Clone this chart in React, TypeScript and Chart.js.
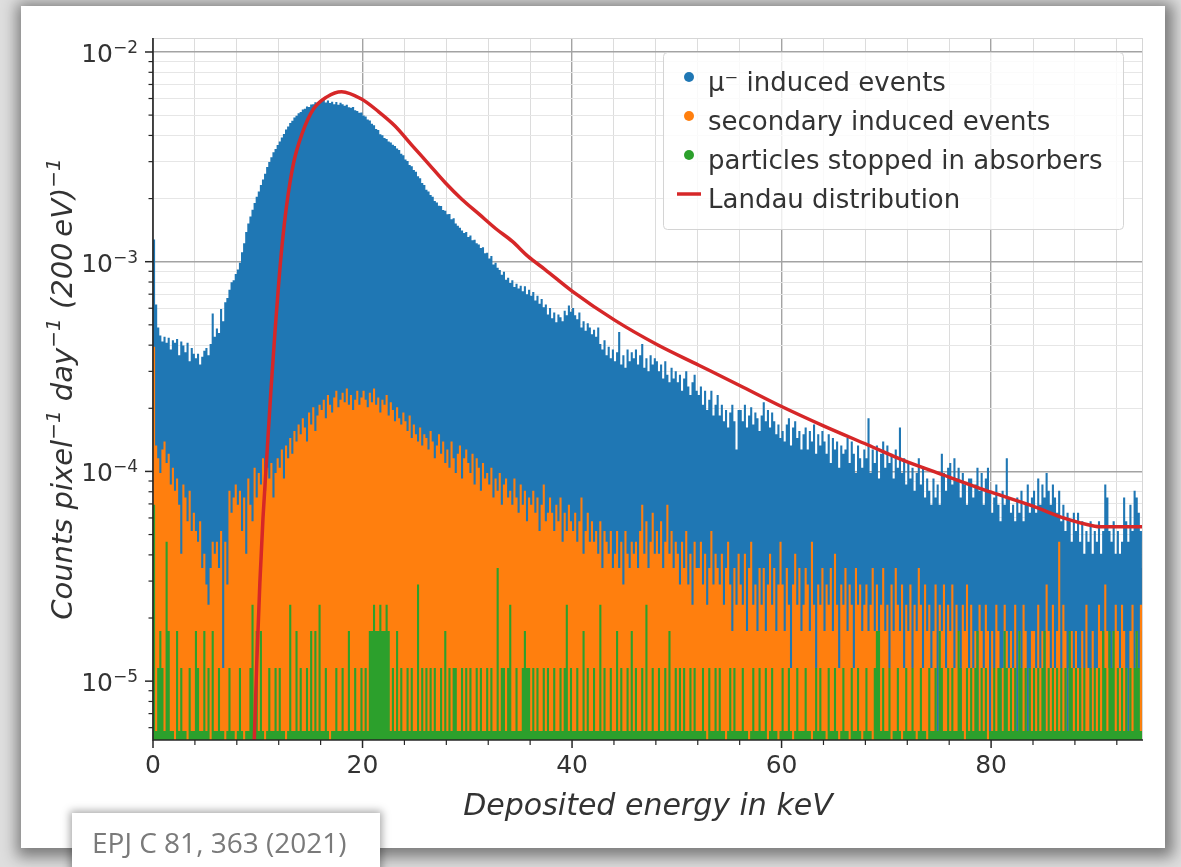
import React, { useEffect, useRef } from "react";
import { Chart, registerables } from "chart.js";

Chart.register(...registerables);

// ---- data ----
const BIN_WIDTH_KEV = 0.2; // 200 eV bins
const COUNT_UNIT = 5.78e-6; // one event in counts pixel^-1 day^-1
const X_MAX = 94.5;
const Y_MIN = 5.24e-6;
const Y_MAX = 1.166e-2;
const X_MINOR_STEP = 4;
const X_MAJOR_LABELS = [0, 20, 40, 60, 80];
const Y_DECADES = [-5, -4, -3, -2];

// events per 200 eV bin, starting at 0 keV
const muCounts = [
  221, 108, 84, 77, 72, 76, 71, 75, 66, 73,
  71, 74, 62, 72, 69, 64, 71, 58, 67, 63,
  60, 63, 56, 61, 65, 67, 62, 70, 98, 76,
  83, 79, 103, 90, 111, 116, 127, 138, 141, 151,
  159, 171, 192, 212, 240, 263, 284, 306, 330, 353,
  374, 402, 427, 455, 489, 517, 544, 576, 597, 623,
  647, 676, 704, 739, 764, 793, 813, 843, 860, 882,
  896, 921, 928, 950, 946, 972, 976, 996, 990, 1011,
  1006, 1021, 994, 1016, 987, 1003, 974, 999, 969, 991,
  976, 960, 969, 944, 939, 947, 913, 906, 889, 891,
  861, 853, 824, 816, 786, 774, 743, 734, 702, 693,
  673, 666, 647, 640, 624, 616, 600, 590, 566, 557,
  531, 523, 500, 494, 473, 464, 442, 432, 411, 402,
  381, 374, 360, 353, 337, 331, 320, 319, 305, 303,
  291, 292, 276, 279, 263, 257, 251, 244, 237, 240,
  227, 231, 219, 220, 212, 209, 201, 203, 190, 191,
  179, 184, 168, 171, 162, 158, 150, 155, 142, 145,
  137, 141, 131, 136, 129, 133, 125, 132, 121, 127,
  119, 124, 113, 119, 109, 115, 105, 108, 97, 104,
  93, 99, 89, 97, 94, 90, 101, 96, 107, 100,
  104, 96, 92, 99, 84, 90, 81, 88, 84, 78,
  82, 76, 84, 70, 66, 73, 62, 68, 60, 66,
  58, 64, 80, 56, 62, 54, 66, 58, 64, 60,
  66, 56, 62, 70, 54, 60, 52, 62, 56, 60,
  58, 52, 56, 48, 58, 50, 46, 54, 48, 52,
  46, 50, 42, 48, 52, 44, 40, 46, 50, 42,
  40, 44, 36, 42, 34, 38, 42, 32, 36, 40,
  32, 36, 30, 34, 28, 33, 36, 30, 22, 34,
  34, 30, 36, 28, 32, 35, 29, 33, 31, 27,
  32, 37, 30, 34, 28, 33, 30, 26, 29, 25,
  27, 24, 29, 31, 23, 28, 30, 25, 27, 22,
  26, 28, 22, 27, 24, 29, 21, 26, 23, 27,
  24, 21, 26, 19, 25, 22, 24, 18, 23, 21,
  22, 25, 19, 24, 21, 17, 23, 20, 18, 22,
  20, 31, 17, 22, 19, 23, 16, 21, 24, 18,
  23, 19, 21, 16, 22, 18, 28, 17, 20, 15,
  19, 16, 18, 14, 17, 20, 15, 18, 13, 16,
  14, 12, 16, 13, 15, 12, 21, 17, 14, 18,
  19, 15, 20, 16, 18, 13, 17, 15, 12, 16,
  16, 13, 15, 18, 14, 17, 12, 16, 18, 14,
  11, 13, 15, 12, 10, 14, 12, 20, 13, 11,
  12, 10, 13, 11, 14, 10, 12, 15, 11, 13,
  14, 11, 16, 12, 15, 13, 17, 14, 12, 15,
  13, 11, 14, 10, 12, 9, 11, 10, 8, 11,
  9, 11, 8, 10, 7, 9, 8, 10, 7, 9,
  8, 10, 7, 9, 15, 13, 9, 8, 10, 7,
  9, 7, 8, 13, 10, 8, 12, 9, 14, 13,
  11, 9, 6,
];

const secondaryCounts = [
  68, 23, 20, 17, 22, 24, 19, 21, 15, 18,
  14, 16, 12, 7, 15, 13, 10, 14, 9, 11,
  9, 8, 10, 6, 7, 5, 4, 6, 8, 7,
  8, 6, 9, 2, 8, 5, 14, 11, 13, 15,
  12, 14, 9, 13, 7, 16, 12, 10, 18, 13,
  17, 15, 20, 14, 18, 16, 19, 13, 17, 20,
  18, 22, 16, 23, 20, 25, 21, 27, 24, 29,
  26, 31, 28, 24, 33, 29, 35, 27, 32, 36,
  34, 38, 31, 40, 36, 33, 39, 42, 35, 38,
  41, 37, 43, 36, 40, 34, 38, 42, 36, 39,
  42, 38, 35, 41, 37, 43, 36, 39, 33, 38,
  36, 40, 32, 37, 34, 30, 35, 31, 29, 33,
  30, 27, 32, 25, 29, 26, 24, 28, 23, 26,
  25, 22, 27, 24, 20, 23, 26, 21, 24, 19,
  22, 18, 24, 20, 17, 21, 23, 16, 20, 22,
  19, 17, 21, 15, 20, 18, 14, 19, 16, 17,
  15, 18, 13, 16, 14, 17, 12, 15, 16, 13,
  14, 12, 16, 13, 11, 15, 12, 14, 10, 13,
  12, 14, 11, 13, 9, 12, 15, 10, 11, 13,
  11, 9, 12, 10, 13, 8, 11, 9, 12, 10,
  9, 11, 8, 10, 13, 7, 9, 11, 8, 10,
  8, 9, 7, 10, 6, 9, 8, 7, 9, 6,
  7, 9, 6, 8, 5, 9, 7, 6, 8, 7,
  8, 6, 9, 12, 7, 10, 6, 8, 11, 7,
  9, 7, 10, 6, 8, 12, 7, 9, 6, 8,
  7, 5, 8, 6, 9, 5, 7, 4, 8, 6,
  6, 8, 5, 7, 4, 6, 9, 5, 7, 6,
  5, 7, 4, 6, 8, 5, 3, 6, 4, 7,
  5, 4, 7, 3, 6, 8, 4, 5, 3, 6,
  4, 6, 3, 5, 7, 4, 6, 3, 5, 8,
  5, 3, 6, 4, 2, 5, 7, 4, 6, 3,
  4, 6, 5, 3, 8, 4, 2, 5, 4, 6,
  3, 5, 4, 6, 3, 7, 4, 2, 5, 4,
  6, 3, 5, 4, 2, 6, 4, 5, 3, 4,
  5, 3, 4, 6, 3, 5, 2, 4, 6, 3,
  4, 2, 5, 3, 6, 4, 3, 5, 2, 4,
  3, 5, 2, 4, 3, 6, 4, 2, 5, 3,
  4, 2, 3, 5, 1, 4, 3, 5, 2, 4,
  3, 5, 2, 4, 3, 1, 4, 3, 5, 2,
  4, 2, 3, 1, 4, 3, 2, 4, 3, 1,
  3, 2, 4, 3, 1, 2, 4, 3, 2, 3,
  2, 4, 1, 3, 2, 4, 3, 1, 2, 3,
  3, 2, 4, 2, 3, 1, 5, 3, 2, 4,
  2, 3, 8, 2, 4, 3, 1, 2, 3, 2,
  3, 2, 1, 3, 2, 4, 2, 1, 3, 2,
  2, 4, 3, 2, 5, 3, 2, 1, 3, 4,
  3, 2, 4, 3, 2, 1, 3, 4, 2, 3,
  2, 4, 8,
];

const stoppedCounts = [
  12, 1, 2, 3, 2, 1, 8, 3, 1, 1,
  0, 3, 1, 2, 1, 1, 0, 2, 1, 1,
  3, 2, 1, 1, 3, 1, 2, 0, 3, 1,
  1, 2, 1, 1, 0, 1, 2, 1, 1, 0,
  1, 2, 1, 0, 1, 1, 2, 4, 1, 3,
  1, 3, 1, 0, 1, 2, 1, 1, 2, 1,
  2, 1, 1, 0, 1, 4, 1, 1, 3, 1,
  2, 1, 1, 2, 1, 3, 1, 3, 1, 4,
  1, 1, 2, 1, 0, 1, 1, 2, 1, 1,
  2, 1, 1, 3, 1, 1, 2, 1, 1, 2,
  1, 2, 1, 3, 3, 4, 3, 3, 4, 3,
  3, 4, 3, 1, 2, 1, 3, 1, 2, 1,
  1, 2, 1, 2, 1, 1, 5, 1, 2, 1,
  2, 1, 2, 1, 2, 1, 1, 2, 1, 3,
  1, 2, 1, 2, 2, 1, 1, 2, 1, 2,
  1, 2, 1, 1, 2, 1, 2, 1, 1, 2,
  1, 2, 1, 1, 6, 1, 2, 2, 1, 2,
  4, 1, 1, 2, 1, 1, 2, 3, 2, 2,
  1, 2, 1, 2, 1, 1, 2, 1, 2, 1,
  1, 2, 1, 1, 2, 1, 2, 4, 1, 2,
  1, 1, 2, 1, 1, 3, 1, 2, 1, 1,
  2, 1, 1, 4, 1, 2, 1, 1, 2, 1,
  1, 3, 1, 2, 1, 1, 2, 1, 3, 1,
  2, 1, 1, 2, 1, 4, 1, 1, 2, 1,
  1, 2, 1, 1, 2, 1, 3, 1, 1, 2,
  1, 2, 1, 2, 1, 1, 2, 1, 2, 1,
  1, 1, 2, 1, 0, 2, 1, 1, 2, 1,
  2, 1, 1, 0, 1, 2, 1, 2, 1, 1,
  1, 2, 1, 1, 0, 1, 2, 1, 1, 2,
  1, 1, 2, 0, 1, 2, 1, 1, 0, 1,
  2, 1, 1, 2, 1, 0, 1, 2, 1, 1,
  1, 2, 1, 1, 0, 1, 2, 1, 2, 1,
  1, 0, 2, 1, 1, 2, 1, 0, 1, 2,
  1, 1, 0, 2, 1, 1, 2, 1, 0, 1,
  2, 1, 1, 0, 2, 3, 3, 1, 2, 1,
  1, 2, 0, 1, 1, 2, 1, 0, 1, 2,
  1, 1, 2, 1, 0, 1, 2, 1, 1, 0,
  2, 1, 1, 2, 1, 3, 2, 1, 1, 2,
  1, 2, 1, 1, 3, 2, 1, 0, 2, 1,
  2, 1, 2, 3, 1, 2, 1, 2, 0, 1,
  1, 2, 1, 2, 2, 1, 3, 2, 1, 2,
  1, 2, 1, 3, 2, 1, 2, 1, 2, 1,
  2, 1, 2, 1, 2, 3, 1, 2, 1, 2,
  1, 2, 1, 2, 1, 2, 1, 3, 2, 1,
  2, 1, 2, 1, 2, 1, 1, 2, 1, 2,
  1, 2, 1, 3, 2, 1, 3, 2, 3, 1,
  2, 1, 2, 1, 2, 1, 2, 1, 2, 3,
  2, 1, 3,
];

const landauKeV = [
  9.45, 9.67, 9.9, 10.2, 10.5, 10.86, 11.25, 11.65, 12.0, 12.3, 12.75, 13.4,
  14.2, 15.3, 16.6, 18.0, 19.9, 21.5, 23.1, 24.7, 26.3, 27.9, 29.5, 31.1, 32.7,
  34.3, 35.8, 37.4, 40.0, 44.1, 48.1, 52.1, 56.0, 60.0, 64.0, 68.2, 72.0, 74.5,
  80.0, 84.0, 86.9, 89.9, 90.5, 94.6,
];
const landauRate = [
  3.5e-6, 5.3e-6, 1.2e-5, 2.94e-5, 6.0e-5, 1.17e-4, 2.4e-4, 4.68e-4, 7.9e-4,
  1.17e-3, 1.85e-3, 2.93e-3, 4.04e-3, 5.33e-3, 6.11e-3, 6.47e-3, 5.97e-3,
  5.21e-3, 4.44e-3, 3.6e-3, 2.93e-3, 2.38e-3, 1.98e-3, 1.69e-3, 1.44e-3,
  1.25e-3, 1.06e-3, 9.2e-4, 7.24e-4, 5.25e-4, 4.03e-4, 3.21e-4, 2.57e-4,
  2.04e-4, 1.65e-4, 1.34e-4, 1.11e-4, 1.0e-4, 7.96e-5, 6.83e-5, 6.0e-5,
  5.48e-5, 5.45e-5, 5.45e-5,
];

const seriesLabels = [
  "μ⁻ induced events",
  "secondary induced events",
  "particles stopped in absorbers",
  "Landau distribution",
];
const seriesColors = ["#1f77b4", "#ff7f0e", "#2ca02c", "#d62728"];

// ---- helpers ----
const FONT = "'DejaVu Sans', 'Liberation Sans', sans-serif";
const TEXT = "#333333";
const EMPTY_BIN_LEVEL = Y_MIN / 100; // empty bins fall below the visible axis

// histogram as step outline: one point per bin left edge + closing right edge
const toSteps = (counts: number[]) => {
  const pts = counts.map((c, i) => ({
    x: i * BIN_WIDTH_KEV,
    y: c > 0 ? c * COUNT_UNIT : EMPTY_BIN_LEVEL,
  }));
  const last = counts[counts.length - 1];
  pts.push({
    x: counts.length * BIN_WIDTH_KEV,
    y: last > 0 ? last * COUNT_UNIT : EMPTY_BIN_LEVEL,
  });
  return pts;
};

type Part = { t: string; sup?: boolean };

function richWidth(ctx: CanvasRenderingContext2D, parts: Part[], size: number, supSize: number, style: string) {
  let w = 0;
  for (const p of parts) {
    ctx.font = `${style}${p.sup ? supSize : size}px ${FONT}`;
    w += ctx.measureText(p.t).width;
  }
  return w;
}

function drawRich(
  ctx: CanvasRenderingContext2D,
  parts: Part[],
  x: number,
  y: number,
  size: number,
  supSize: number,
  supRise: number,
  style: string
) {
  let cx = x;
  for (const p of parts) {
    ctx.font = `${style}${p.sup ? supSize : size}px ${FONT}`;
    ctx.fillText(p.t, cx, p.sup ? y - supRise : y);
    cx += ctx.measureText(p.t).width;
  }
}

const decorPlugin = {
  id: "decor",
  afterDatasetsDraw(chart: any) {
    const { ctx, chartArea: a, scales } = chart;
    const xs = scales.x;
    const ys = scales.y;
    ctx.save();

    // light frame top/right
    ctx.strokeStyle = "#d6d6d6";
    ctx.lineWidth = 1;
    ctx.beginPath();
    ctx.moveTo(a.left, a.top + 0.5);
    ctx.lineTo(a.right, a.top + 0.5);
    ctx.moveTo(a.right - 0.5, a.top);
    ctx.lineTo(a.right - 0.5, a.bottom);
    ctx.stroke();

    // dark spines
    ctx.strokeStyle = "#262626";
    ctx.lineWidth = 1.6;
    ctx.beginPath();
    ctx.moveTo(a.left, a.top);
    ctx.lineTo(a.left, a.bottom);
    ctx.lineTo(a.right, a.bottom);
    ctx.stroke();

    // x ticks
    ctx.fillStyle = TEXT;
    ctx.textAlign = "center";
    ctx.textBaseline = "alphabetic";
    for (const t of xs.ticks) {
      const px = xs.getPixelForValue(t.value);
      const major = X_MAJOR_LABELS.includes(t.value);
      ctx.lineWidth = major ? 1.5 : 1.2;
      ctx.beginPath();
      ctx.moveTo(px, a.bottom);
      ctx.lineTo(px, a.bottom + (major ? 8 : 5));
      ctx.stroke();
      if (major) {
        ctx.font = `25px ${FONT}`;
        ctx.fillText(String(t.value), px, a.bottom + 33);
      }
    }

    // y ticks
    ctx.textAlign = "left";
    for (const t of ys.ticks) {
      const py = ys.getPixelForValue(t.value);
      const e = Math.log10(t.value);
      const major = Math.abs(e - Math.round(e)) < 1e-9;
      ctx.lineWidth = major ? 1.5 : 1.2;
      ctx.beginPath();
      ctx.moveTo(a.left, py);
      ctx.lineTo(a.left - (major ? 8 : 4.5), py);
      ctx.stroke();
      if (major && Y_DECADES.includes(Math.round(e))) {
        const parts: Part[] = [
          { t: "10" },
          { t: "−" + Math.abs(Math.round(e)), sup: true },
        ];
        const w = richWidth(ctx, parts, 25, 17, "");
        drawRich(ctx, parts, a.left - 15 - w, py + 10, 25, 17, 9, "");
      }
    }

    // x axis title
    ctx.font = `italic 30px ${FONT}`;
    ctx.textAlign = "center";
    ctx.fillText("Deposited energy in keV", (a.left + a.right) / 2, a.bottom + 75);

    // y axis title (rotated)
    const yParts: Part[] = [
      { t: "Counts pixel" },
      { t: "−1", sup: true },
      { t: " day" },
      { t: "−1", sup: true },
      { t: " (200\u2009eV)" },
      { t: "−1", sup: true },
    ];
    ctx.save();
    ctx.translate(a.left - 81, (a.top + a.bottom) / 2);
    ctx.rotate(-Math.PI / 2);
    ctx.textAlign = "left";
    const yw = richWidth(ctx, yParts, 29, 20, "italic ");
    drawRich(ctx, yParts, -yw / 2, 0, 29, 20, 12, "italic ");
    ctx.restore();

    // legend
    const lg = { x: a.right - 480, y: a.top + 14, w: 460, h: 177 };
    ctx.beginPath();
    ctx.roundRect(lg.x + 0.5, lg.y + 0.5, lg.w, lg.h, 4);
    ctx.fillStyle = "rgba(255,255,255,0.82)";
    ctx.fill();
    ctx.strokeStyle = "#d4d4d4";
    ctx.lineWidth = 1;
    ctx.stroke();
    const ds = chart.data.datasets;
    ctx.textAlign = "left";
    ds.forEach((d: any, i: number) => {
      const cy = lg.y + 25 + 39 * i;
      if (!d.fill) {
        ctx.strokeStyle = d.borderColor;
        ctx.lineWidth = 3.5;
        ctx.beginPath();
        ctx.moveTo(lg.x + 14, cy);
        ctx.lineTo(lg.x + 38, cy);
        ctx.stroke();
      } else {
        ctx.fillStyle = d.backgroundColor;
        ctx.beginPath();
        ctx.arc(lg.x + 26, cy, 5, 0, Math.PI * 2);
        ctx.fill();
      }
      ctx.fillStyle = TEXT;
      ctx.font = `26px ${FONT}`;
      ctx.fillText(d.label, lg.x + 45, lg.y + 39 + 39 * i);
    });

    ctx.restore();
  },
};

const histDataset = (label: string, color: string, counts: number[], order: number) => ({
  label,
  data: toSteps(counts),
  backgroundColor: color,
  borderColor: color,
  borderWidth: 0,
  pointRadius: 0,
  stepped: true,
  fill: "start",
  order,
});

export default function App() {
  const canvasRef = useRef<HTMLCanvasElement | null>(null);

  useEffect(() => {
    const canvas = canvasRef.current;
    if (!canvas) return;

    const xTicks: number[] = [];
    for (let v = 0; v <= X_MAX; v += X_MINOR_STEP) xTicks.push(v);
    const yTicks: number[] = [];
    for (let e = -7; e <= -1; e++) {
      for (let k = 1; k <= 9; k++) {
        const v = k * Math.pow(10, e);
        if (v >= Y_MIN && v <= Y_MAX) yTicks.push(v);
      }
    }
    const isDecade = (v: number) => {
      const e = Math.log10(v);
      return Math.abs(e - Math.round(e)) < 1e-9;
    };

    const chart = new Chart(canvas, {
      type: "line",
      data: {
        datasets: [
          histDataset(seriesLabels[0], seriesColors[0], muCounts, 4),
          histDataset(seriesLabels[1], seriesColors[1], secondaryCounts, 3),
          histDataset(seriesLabels[2], seriesColors[2], stoppedCounts, 2),
          {
            label: seriesLabels[3],
            data: landauKeV.map((x, i) => ({ x, y: landauRate[i] })),
            borderColor: seriesColors[3],
            backgroundColor: seriesColors[3],
            borderWidth: 3.5,
            pointRadius: 0,
            fill: false,
            cubicInterpolationMode: "monotone",
            borderJoinStyle: "round",
            borderCapStyle: "round",
            order: 1,
          },
        ] as any,
      },
      options: {
        animation: false,
        responsive: false,
        events: [],
        layout: { padding: { left: 153, right: 38, top: 38, bottom: 127 } },
        plugins: { legend: { display: false }, tooltip: { enabled: false } },
        scales: {
          x: {
            type: "linear",
            min: 0,
            max: X_MAX,
            offset: false,
            grid: {
              offset: false,
              drawTicks: false,
              color: (c: any) => (X_MAJOR_LABELS.includes(c.tick?.value) ? "#a3a3a3" : "#dcdcdc"),
              lineWidth: (c: any) => (X_MAJOR_LABELS.includes(c.tick?.value) ? 1.4 : 1),
            },
            border: { display: false },
            ticks: { display: false },
            afterBuildTicks: (axis: any) => {
              axis.ticks = xTicks.map((value) => ({ value }));
            },
          },
          y: {
            type: "logarithmic",
            min: Y_MIN,
            max: Y_MAX,
            grid: {
              drawTicks: false,
              color: (c: any) => (c.tick && isDecade(c.tick.value) ? "#a3a3a3" : "#e6e6e6"),
              lineWidth: (c: any) => (c.tick && isDecade(c.tick.value) ? 1.4 : 1),
            },
            border: { display: false },
            ticks: { display: false },
            afterBuildTicks: (axis: any) => {
              axis.ticks = yTicks.map((value) => ({ value }));
            },
          },
        } as any,
      },
      plugins: [decorPlugin],
    });

    return () => chart.destroy();
  }, []);

  return (
    <div
      style={{
        position: "fixed",
        left: 0,
        top: 0,
        width: 1181,
        height: 867,
        overflow: "hidden",
        background: "#dedede",
      }}
    >
      <div
        style={{
          position: "absolute",
          left: 21,
          top: 6,
          width: 1144,
          height: 842,
          background: "#ffffff",
          boxShadow: "2px 3px 14px 6px rgba(0,0,0,0.45)",
        }}
      />
      <canvas
        ref={canvasRef}
        width={1181}
        height={867}
        style={{ position: "absolute", left: 0, top: 0, width: 1181, height: 867 }}
      />
      <div
        style={{
          position: "absolute",
          left: 72,
          top: 813,
          width: 308,
          height: 70,
          background: "#ffffff",
          boxShadow: "0 0 8px 2px rgba(0,0,0,0.35)",
          fontFamily: "'Open Sans', sans-serif",
          fontSize: 28,
          color: "#7a7a7a",
          boxSizing: "border-box",
          paddingLeft: 20,
          lineHeight: "58px",
          whiteSpace: "nowrap",
        }}
      >
        EPJ C 81, 363 (2021)
      </div>
    </div>
  );
}
